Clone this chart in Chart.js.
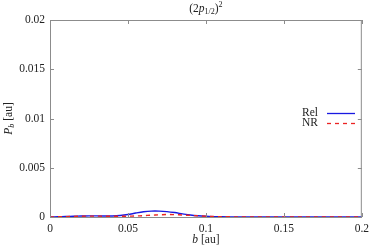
<!DOCTYPE html>
<html>
<head>
<meta charset="utf-8">
<script src="https://cdn.jsdelivr.net/npm/chart.js@4/dist/chart.umd.min.js"></script>
<style>
  html, body { margin: 0; padding: 0; background: #fff; }
  #wrap { width: 374px; height: 249px; }
</style>
</head>
<body>
<div id="wrap"><canvas id="myChart" width="374" height="249"></canvas></div>
<script>
let b_values = [0, 0.005, 0.01, 0.015, 0.02, 0.025, 0.03, 0.035, 0.04, 0.045, 0.05, 0.055, 0.06, 0.065, 0.07, 0.075, 0.08, 0.085, 0.09, 0.095, 0.1, 0.105, 0.11, 0.12, 0.13, 0.15, 0.17, 0.2];
let rel_values = [0, 0.00002, 0.00005, 0.00008, 0.0001, 0.00011, 0.00011, 0.0001, 0.0001, 0.00015, 0.00025, 0.0004, 0.00053, 0.0006, 0.0006, 0.00055, 0.00045, 0.00032, 0.0002, 0.00012, 0.00007, 0.00004, 0.00002, 0.00001, 0, 0, 0, 0];
let nr_values = [0, 0.00002, 0.00004, 0.00006, 0.00008, 0.00009, 0.00009, 0.00008, 0.00007, 0.00007, 0.00008, 0.0001, 0.00014, 0.00018, 0.00022, 0.00025, 0.00024, 0.0002, 0.00016, 0.00012, 0.00008, 0.00005, 0.00003, 0.00001, 0, 0, 0, 0];
let x_ticks = [0, 0.05, 0.1, 0.15, 0.2];
let y_ticks = [0, 0.005, 0.01, 0.015, 0.02];
let series_labels = ['Rel', 'NR'];

let font_family = '"Liberation Serif", "DejaVu Serif", serif';
let frame_color = '#8c8c8c';
let fs = 11.5;

function to_points(xs, ys){
  return xs.map((x, i) => ({x: x, y: ys[i]}));
}

function draw_parts(ctx, parts, cx, y){
  let total = 0;
  parts.forEach(p => { ctx.font = p.f; total += ctx.measureText(p.t).width; });
  let x0 = cx - total / 2;
  ctx.textAlign = 'left';
  parts.forEach(p => {
    ctx.font = p.f;
    ctx.fillText(p.t, x0, y + (p.dy || 0));
    x0 += ctx.measureText(p.t).width;
  });
}

// frame, inward ticks, titles and legend
let decorations = {
  id: 'decorations',
  afterDraw(chart){
    let ctx = chart.ctx;
    let area = chart.chartArea;
    let xs = chart.scales.x;
    let ys = chart.scales.y;
    ctx.save();
    ctx.strokeStyle = frame_color;
    ctx.lineWidth = 1;
    ctx.strokeRect(area.left + 0.5, area.top + 0.5, area.right - area.left - 1, area.bottom - area.top);
    let len = 4;
    ctx.beginPath();
    x_ticks.forEach(v => {
      let px = Math.round(xs.getPixelForValue(v)) + 0.5;
      ctx.moveTo(px, area.bottom); ctx.lineTo(px, area.bottom - len);
      ctx.moveTo(px, area.top); ctx.lineTo(px, area.top + len);
    });
    y_ticks.forEach(v => {
      let py = Math.round(ys.getPixelForValue(v)) + 0.5;
      ctx.moveTo(area.left, py); ctx.lineTo(area.left + len, py);
      ctx.moveTo(area.right, py); ctx.lineTo(area.right - len, py);
    });
    ctx.stroke();

    ctx.fillStyle = '#222';
    ctx.textBaseline = 'alphabetic';
    let cx = (area.left + area.right) / 2;
    let small = (fs * 0.7) + 'px ' + font_family;
    let normal = fs + 'px ' + font_family;
    let italic = 'italic ' + fs + 'px ' + font_family;

    // title (2p_{1/2})^2
    draw_parts(ctx, [
      {t: '(2', f: normal},
      {t: 'p', f: italic},
      {t: '1/2', f: small, dy: 2},
      {t: ')', f: normal},
      {t: '2', f: small, dy: -5}
    ], cx, 12);

    // x axis title
    draw_parts(ctx, [
      {t: 'b', f: italic},
      {t: ' [au]', f: normal}
    ], cx, 243);

    // y axis title
    ctx.save();
    ctx.translate(12, (area.top + area.bottom) / 2);
    ctx.rotate(-Math.PI / 2);
    draw_parts(ctx, [
      {t: 'P', f: italic},
      {t: 'b', f: 'italic ' + small, dy: 2},
      {t: ' [au]', f: normal}
    ], 0, 0);
    ctx.restore();

    // legend
    ctx.font = normal;
    ctx.textAlign = 'right';
    ctx.textBaseline = 'middle';
    chart.data.datasets.forEach((ds, i) => {
      let ly = 113 + i * 10;
      ctx.fillStyle = '#222';
      ctx.fillText(ds.label, 318, ly);
      ctx.strokeStyle = ds.borderColor;
      ctx.lineWidth = 1.3;
      ctx.setLineDash(ds.borderDash || []);
      ctx.beginPath();
      ctx.moveTo(327, ly + 0.5);
      ctx.lineTo(355, ly + 0.5);
      ctx.stroke();
    });
    ctx.setLineDash([]);
    ctx.restore();
  }
};

let settings = {
  type: 'scatter',
  data: {
    datasets: [
      {
        label: series_labels[0],
        data: to_points(b_values, rel_values),
        showLine: true,
        borderColor: 'rgb(25,25,225)',
        borderWidth: 1.4,
        pointRadius: 0,
        tension: 0.3,
        order: 2
      },
      {
        label: series_labels[1],
        data: to_points(b_values, nr_values),
        showLine: true,
        borderColor: 'rgb(235,35,35)',
        borderWidth: 1.4,
        borderDash: [4, 4],
        pointRadius: 0,
        tension: 0.3,
        order: 1
      }
    ]
  },
  options: {
    responsive: false,
    animation: false,
    layout: {
      padding: {top: 20, right: 7, left: 0, bottom: 0}
    },
    plugins: {
      legend: { display: false },
      tooltip: { enabled: false }
    },
    scales: {
      x: {
        type: 'linear',
        min: 0,
        max: 0.2,
        afterFit: s => { s.height = 32; },
        afterBuildTicks: s => { s.ticks = x_ticks.map(v => ({value: v})); },
        grid: { display: false, drawTicks: false },
        border: { display: false },
        ticks: {
          padding: 5,
          color: '#222',
          font: { family: font_family, size: fs },
          callback: v => String(v)
        }
      },
      y: {
        type: 'linear',
        min: 0,
        max: 0.02,
        afterFit: s => { s.width = 50; },
        afterBuildTicks: s => { s.ticks = y_ticks.map(v => ({value: v})); },
        grid: { display: false, drawTicks: false },
        border: { display: false },
        ticks: {
          padding: 5,
          color: '#222',
          font: { family: font_family, size: fs },
          callback: v => String(v)
        }
      }
    }
  },
  plugins: [decorations]
};

window.onload = function(){
  window.chart = new Chart('myChart', settings);
};
</script>
</body>
</html>
